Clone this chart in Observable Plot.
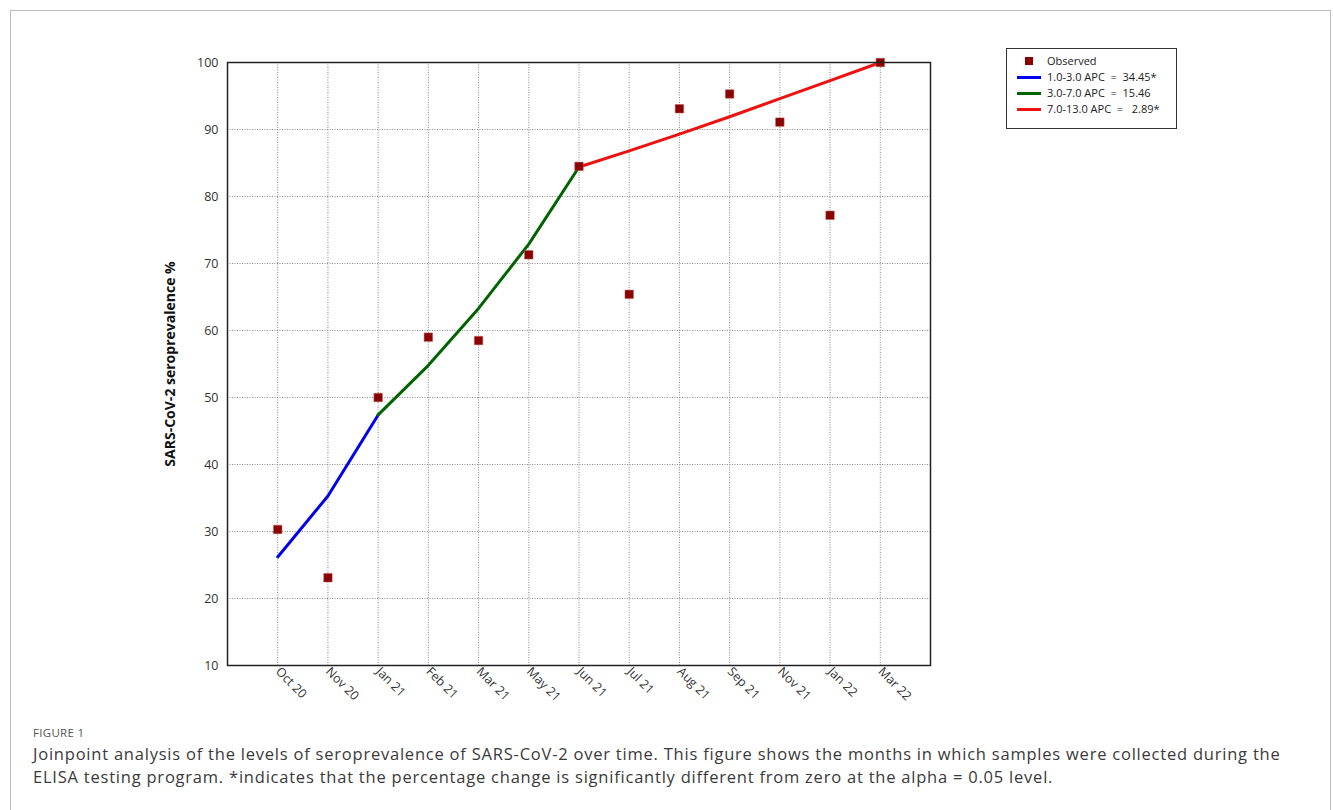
<!DOCTYPE html>
<html>
<head>
<meta charset="utf-8">
<script src="https://cdn.jsdelivr.net/npm/d3@7"></script>
<script src="https://cdn.jsdelivr.net/npm/@observablehq/plot@0.6"></script>
<style>
  html, body { margin: 0; padding: 0; background: #fff; overflow: hidden; }
  #page { position: relative; width: 1333px; height: 810px; font-family: "Open Sans", sans-serif; }
  #border { position: absolute; left: 10px; top: 10px; width: 1321px; height: 900px; border: 1px solid #bdbdbd; box-sizing: border-box; }
  #chart { position: absolute; left: 0; top: 0; }
  #chart g[aria-label="y-axis label"] text { font-weight: bold; font-size: 14px; fill: #111; }
  #legend { position: absolute; left: 1006px; top: 48px; width: 171px; height: 81px; border: 1px solid #333; box-sizing: border-box; background: #fff;
            font-family: "Open Sans", sans-serif; font-size: 11px; color: #222; padding-top: 4px; }
  .row { position: relative; height: 16px; line-height: 16px; }
  .sw { position: absolute; top: 7px; left: 10px; width: 24px; height: 3px; }
  .sq { position: absolute; top: 4px; left: 18px; width: 8px; height: 8px; }
  .lt { position: absolute; left: 40px; white-space: pre; }
  #figlabel { position: absolute; left: 33px; top: 725px; font-size: 11.5px; line-height: 15px; color: #555; letter-spacing: 0.3px; }
  #caption { position: absolute; left: 33px; top: 742px; width: 1290px; font-size: 16.5px; line-height: 23px; color: #3a3a3a; letter-spacing: 0.78px; }
</style>
</head>
<body>
<div id="page">
  <div id="border"></div>
  <div id="chart"></div>
  <div id="legend"></div>
  <div id="figlabel">FIGURE 1</div>
  <div id="caption">Joinpoint analysis of the levels of seroprevalence of SARS-CoV-2 over time. This figure shows the months in which samples were collected during the ELISA testing program. *indicates that the percentage change is significantly different from zero at the alpha = 0.05 level.</div>
</div>
<script>
// Month labels for sample collection points (index 1..13)
const months = ["Oct 20","Nov 20","Jan 21","Feb 21","Mar 21","May 21","Jun 21","Jul 21","Aug 21","Sep 21","Nov 21","Jan 22","Mar 22"];
const monthIdx = [1,2,3,4,5,6,7,8,9,10,11,12,13];

// Observed seroprevalence (%)
const observed = [30.3, 23.1, 50.0, 59.0, 58.5, 71.3, 84.5, 65.4, 93.1, 95.3, 91.1, 77.2, 100.0];

// Joinpoint fitted segments
const seg1X = [1, 2, 3];
const seg1Y = [26.2, 35.3, 47.4];
const seg2X = [3, 4, 5, 6, 7];
const seg2Y = [47.4, 54.8, 63.3, 72.9, 84.4];
const seg3X = [7, 8, 9, 10, 11, 12, 13];
const seg3Y = [84.4, 86.8, 89.3, 91.9, 94.6, 97.3, 100.0];

const yTicks = [10, 20, 30, 40, 50, 60, 70, 80, 90, 100];

const legendItems = [
  {label: "Observed", type: "square", color: "#8b0000"},
  {label: "1.0-3.0 APC  =  34.45*", type: "line", color: "#0000ee"},
  {label: "3.0-7.0 APC  =  15.46", type: "line", color: "#006400"},
  {label: "7.0-13.0 APC  =   2.89*", type: "line", color: "#ee1111"}
];

const obsData = monthIdx.map((x, i) => ({x, y: observed[i]}));
const s1 = seg1X.map((x, i) => ({x, y: seg1Y[i]}));
const s2 = seg2X.map((x, i) => ({x, y: seg2Y[i]}));
const s3 = seg3X.map((x, i) => ({x, y: seg3Y[i]}));

const chart = Plot.plot({
  width: 1333,
  height: 720,
  marginLeft: 227,
  marginRight: 403,
  marginTop: 62,
  marginBottom: 55,
  style: {fontFamily: "'Open Sans', sans-serif", fontSize: "12.5px", color: "#333", background: "transparent"},
  x: {domain: [0, 14]},
  y: {domain: [10, 100]},
  marks: [
    Plot.gridX(monthIdx, {stroke: "#888", strokeOpacity: 1, strokeDasharray: "1,1.5", strokeWidth: 1}),
    Plot.gridY(yTicks, {stroke: "#888", strokeOpacity: 1, strokeDasharray: "1,1.5", strokeWidth: 1}),
    Plot.axisY(yTicks, {tickSize: 0, tickPadding: 9, label: "SARS-CoV-2 seroprevalence %", labelAnchor: "center", labelArrow: "none", labelOffset: 62}),
    Plot.axisX(monthIdx, {tickSize: 0, tickPadding: 4, tickRotate: 45, tickFormat: d => months[d - 1], label: null}),
    Plot.line(s1, {x: "x", y: "y", stroke: legendItems[1].color, strokeWidth: 3}),
    Plot.line(s2, {x: "x", y: "y", stroke: legendItems[2].color, strokeWidth: 3}),
    Plot.line(s3, {x: "x", y: "y", stroke: legendItems[3].color, strokeWidth: 3}),
    Plot.dot(obsData, {x: "x", y: "y", symbol: "square", r: 4.8, fill: legendItems[0].color, stroke: "#c06060", strokeWidth: 0.5}),
    Plot.frame({stroke: "#222", strokeWidth: 1.5})
  ]
});
document.getElementById("chart").appendChild(chart);

const legend = document.getElementById("legend");
for (const it of legendItems) {
  const row = document.createElement("div");
  row.className = "row";
  const sw = document.createElement("div");
  sw.className = it.type === "square" ? "sq" : "sw";
  sw.style.background = it.color;
  const t = document.createElement("span");
  t.className = "lt";
  t.textContent = it.label;
  row.appendChild(sw);
  row.appendChild(t);
  legend.appendChild(row);
}
</script>
</body>
</html>
